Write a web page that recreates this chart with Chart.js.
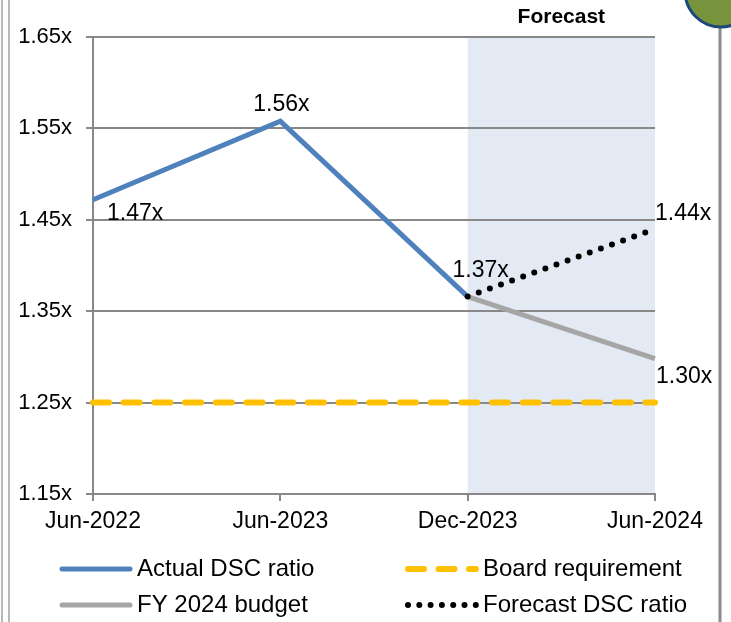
<!DOCTYPE html>
<html lang="en">
<head>
  <meta charset="UTF-8">
  <title>DSC ratio</title>
  <script src="https://cdn.jsdelivr.net/npm/chart.js"></script>
  <style>
    body { margin: 0; padding: 0; background: #fff; }
    #wrap { position: relative; width: 731px; height: 622px; }
  </style>
</head>
<body>
  <div id="wrap"><canvas id="dsc" width="731" height="622"></canvas></div>

  <script>
    // values
    const categories = ['Jun-2022', 'Jun-2023', 'Dec-2023', 'Jun-2024'];
    const actual   = [1.472, 1.558, 1.366, null];
    const budget   = [null, null, 1.366, 1.298];
    const forecast = [null, null, 1.366, 1.44];
    const board    = [1.25, 1.25, 1.25, 1.25];
    const yTicks   = [1.15, 1.25, 1.35, 1.45, 1.55, 1.65];
    const forecastSpan = ['Dec-2023', 'Jun-2024'];

    const FONT = '"Liberation Sans", Arial, sans-serif';
    const GRID = '#888888';

    // where the value labels sit relative to their point
    const valueLabels = [
      { ds: 0, i: 0, dx: 14, dy: 14, align: 'left' },
      { ds: 0, i: 1, dx: 1,  dy: -16, align: 'center' },
      { ds: 0, i: 2, dx: 13, dy: -26, align: 'center' },
      { ds: 3, i: 3, dx: 0,  dy: -15, align: 'left' },
      { ds: 1, i: 3, dx: 1,  dy: 18, align: 'left' }
    ];

    const backdrop = {
      id: 'backdrop',
      beforeDraw(chart) {
        const { ctx, chartArea, scales } = chart;
        ctx.save();
        ctx.fillStyle = '#fff';
        ctx.fillRect(0, 0, chart.width, chart.height);
        const x0 = scales.x.getPixelForValue(categories.indexOf(forecastSpan[0]));
        const x1 = scales.x.getPixelForValue(categories.indexOf(forecastSpan[1]));
        ctx.fillStyle = '#e4eaf4';
        ctx.fillRect(x0, chartArea.top, x1 - x0, chartArea.bottom - chartArea.top);
        ctx.fillStyle = '#000';
        ctx.font = 'bold 21px ' + FONT;
        ctx.textAlign = 'center';
        ctx.textBaseline = 'middle';
        ctx.fillText('Forecast', (x0 + x1) / 2, 17);
        ctx.restore();
      }
    };

    const extras = {
      id: 'extras',
      afterDraw(chart) {
        const ctx = chart.ctx;
        ctx.save();

        // value labels
        ctx.fillStyle = '#000';
        ctx.font = '23px ' + FONT;
        ctx.textBaseline = 'middle';
        valueLabels.forEach(l => {
          const pt = chart.getDatasetMeta(l.ds).data[l.i];
          const v = chart.data.datasets[l.ds].data[l.i];
          ctx.textAlign = l.align;
          ctx.fillText(v.toFixed(2) + 'x', pt.x + l.dx, pt.y + l.dy);
        });

        // legend
        const items = [
          { ds: 0, x0: 62,  x1: 130, tx: 137, y: 569 },
          { ds: 2, x0: 408, x1: 476, tx: 483, y: 569 },
          { ds: 1, x0: 62,  x1: 130, tx: 137, y: 605 },
          { ds: 3, x0: 408, x1: 476, tx: 483, y: 605 }
        ];
        ctx.font = '24px ' + FONT;
        items.forEach(it => {
          const d = chart.data.datasets[it.ds];
          ctx.beginPath();
          ctx.strokeStyle = d.borderColor;
          ctx.lineWidth = d.borderWidth;
          ctx.lineCap = 'round';
          ctx.setLineDash(d.legendDash || []);
          ctx.moveTo(it.x0, it.y);
          ctx.lineTo(it.x1, it.y);
          ctx.stroke();
          ctx.setLineDash([]);
          ctx.fillStyle = '#000';
          ctx.textAlign = 'left';
          ctx.fillText(d.label, it.tx, it.y);
        });

        // frame bits around the slide
        ctx.strokeStyle = '#a0a0a0';
        ctx.lineWidth = 1.5;
        [2, 9].forEach(x => {
          ctx.beginPath();
          ctx.moveTo(x, 0);
          ctx.lineTo(x, chart.height);
          ctx.stroke();
        });
        ctx.strokeStyle = '#8a8a8a';
        ctx.lineWidth = 3;
        ctx.beginPath();
        ctx.moveTo(720, 20);
        ctx.lineTo(720, chart.height);
        ctx.stroke();
        ctx.beginPath();
        ctx.arc(721, -9, 36, 0, Math.PI * 2);
        ctx.fillStyle = '#77933c';
        ctx.fill();
        ctx.strokeStyle = '#1f497d';
        ctx.lineWidth = 3;
        ctx.stroke();
        ctx.restore();
      }
    };

    window.onload = () => {
      const ctx = document.getElementById('dsc').getContext('2d');
      new Chart(ctx, {
        type: 'line',
        data: {
          labels: categories,
          datasets: [
            {
              label: 'Actual DSC ratio', data: actual,
              borderColor: '#4f81bd', borderWidth: 5, order: 2
            },
            {
              label: 'FY 2024 budget', data: budget,
              borderColor: '#a6a6a6', borderWidth: 5, order: 3
            },
            {
              label: 'Board requirement', data: board,
              borderColor: '#ffc000', borderWidth: 6, order: 4,
              borderDash: [16, 14.7], borderCapStyle: 'round',
              legendDash: [16, 14.5]
            },
            {
              label: 'Forecast DSC ratio', data: forecast,
              borderColor: '#000', borderWidth: 6, order: 1,
              borderDash: [0, 11.8], borderCapStyle: 'round',
              legendDash: [0, 11.3]
            }
          ]
        },
        options: {
          responsive: false,
          animation: false,
          layout: { padding: { left: 0, top: 37, right: 76, bottom: 88 } },
          elements: {
            point: { radius: 0, hoverRadius: 0 },
            line: { tension: 0, fill: false }
          },
          scales: {
            x: {
              offset: false,
              afterFit: s => { s.height = 40; },
              grid: { drawOnChartArea: false, color: GRID, lineWidth: 2, tickLength: 7 },
              border: { color: GRID, width: 2 },
              ticks: { color: '#000', font: { size: 23, family: FONT }, maxRotation: 0, autoSkip: false, padding: 7 }
            },
            y: {
              min: yTicks[0], max: yTicks[yTicks.length - 1],
              afterBuildTicks: s => { s.ticks = yTicks.map(v => ({ value: v })); },
              afterFit: s => { s.width = 93; },
              grid: { color: GRID, lineWidth: 2, tickLength: 7 },
              border: { color: GRID, width: 2 },
              ticks: {
                color: '#000', font: { size: 22, family: FONT }, padding: 14,
                callback: v => v.toFixed(2) + 'x'
              }
            }
          },
          plugins: {
            legend: { display: false },
            tooltip: { enabled: false }
          }
        },
        plugins: [backdrop, extras]
      });
    };
  </script>
</body>
</html>
